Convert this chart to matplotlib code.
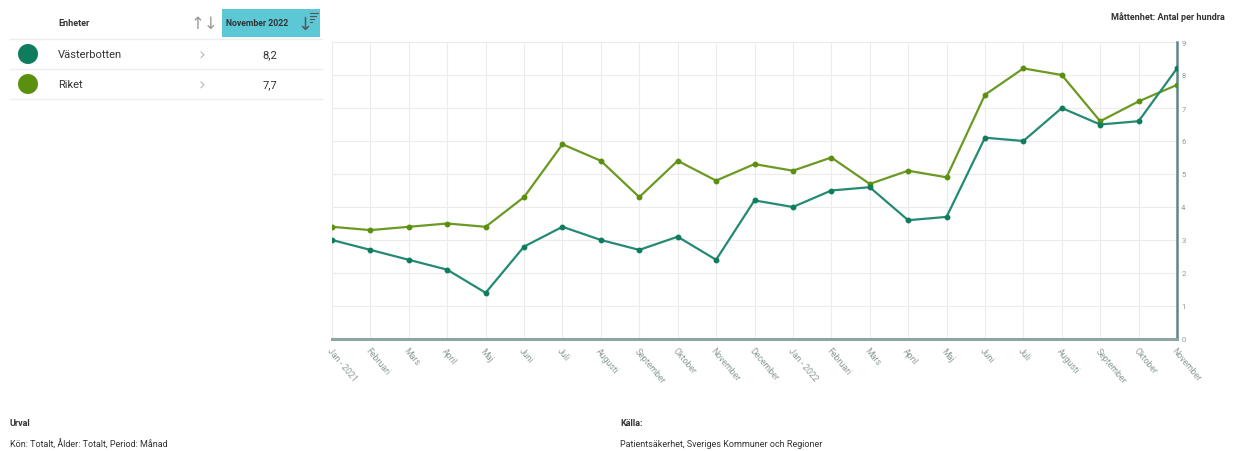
import matplotlib.pyplot as plt
from matplotlib.patches import Rectangle, Ellipse

months = ["Jan - 2021", "Februari", "Mars", "April", "Maj", "Juni", "Juli", "Augusti",
          "September", "Oktober", "November", "December", "Jan - 2022", "Februari",
          "Mars", "April", "Maj", "Juni", "Juli", "Augusti", "September", "Oktober",
          "November"]
vasterbotten = [3.0, 2.7, 2.4, 2.1, 1.4, 2.8, 3.4, 3.0, 2.7, 3.1, 2.4, 4.2,
                4.0, 4.5, 4.6, 3.6, 3.7, 6.1, 6.0, 7.0, 6.5, 6.6, 8.2]
riket = [3.4, 3.3, 3.4, 3.5, 3.4, 4.3, 5.9, 5.4, 4.3, 5.4, 4.8, 5.3,
         5.1, 5.5, 4.7, 5.1, 4.9, 7.4, 8.2, 8.0, 6.6, 7.2, 7.7]
units = ["Västerbotten", "Riket"]
latest = ["8,2", "7,7"]

plt.rcParams["font.family"] = ["Roboto", "DejaVu Sans"]

c_vb = "#258a74"
c_ri = "#6b9a22"
dot_vb = "#0e7c5d"
dot_ri = "#5a8f0f"
axis_col = "#5f8788"
txt = "#333333"
light = "#8c9a9a"

W, H = 1234, 452
fig = plt.figure(figsize=(W / 100, H / 100), dpi=100)
fig.patch.set_facecolor("white")

ax = fig.add_axes([332 / W, 1 - 340 / H, (1177 - 332) / W, (340 - 43) / H])
x = list(range(len(months)))
ax.plot(x, riket, color=c_ri, lw=1.6, marker="o", ms=3.2, mfc=dot_ri, mec=dot_ri, zorder=3)
ax.plot(x, vasterbotten, color=c_vb, lw=1.6, marker="o", ms=3.2, mfc=dot_vb, mec=dot_vb, zorder=4)
ax.set_xlim(0, len(months) - 1)
ax.set_ylim(0, 9)
ax.set_yticks(range(10))
ax.yaxis.tick_right()
ax.tick_params(axis="y", length=0, labelsize=5.5, labelcolor=light, pad=3)
ax.set_xticks(x)
ax.set_xticklabels(months, rotation=-50, ha="left", va="top", rotation_mode="anchor",
                   fontsize=6.3, color=light)
ax.tick_params(axis="x", length=0, pad=5)
ax.grid(True, color="#ececec", lw=0.8)
for s in ["top", "left"]:
    ax.spines[s].set_visible(False)
ax.spines["right"].set_color(axis_col)
ax.spines["right"].set_linewidth(1.8)
ax.spines["bottom"].set_color("#8fa3a3")
ax.spines["bottom"].set_linewidth(2.2)


def px(xp, yp):
    return xp / W, 1 - yp / H


def hline(x0, x1, yp, col, lw):
    fig.add_artist(plt.Line2D([x0 / W, x1 / W], [1 - yp / H] * 2, transform=fig.transFigure,
                              color=col, lw=lw))


# table / legend at the top left
fig.text(*px(58, 24), "Enheter", fontsize=6.5, fontweight="bold", color=txt, va="center")
fig.text(*px(205, 24), "↑↓", fontsize=12, color="#9a9a9a", va="center", ha="center",
         family="DejaVu Sans")
fig.patches.append(Rectangle(px(222, 38), 98 / W, 28 / H, transform=fig.transFigure,
                             facecolor="#5cc8d6", edgecolor="none"))
fig.text(*px(226, 24), "November 2022", fontsize=6.3, fontweight="bold", color=txt, va="center")
fig.text(*px(305, 25), "↓", fontsize=13, color="#555555", va="center", ha="center",
         family="DejaVu Sans")
for k, ln in enumerate([8, 6, 4, 2]):
    hline(310, 310 + ln, 14 + 3 * k, "#555555", 0.8)
for yl in [40, 70, 100]:
    hline(10, 322, yl, "#eeeeee", 1)
for i, (name, val, col) in enumerate(zip(units, latest, [dot_vb, dot_ri])):
    yc = 55 + 30 * i
    fig.patches.append(Ellipse(px(28, yc), 20 / W, 20 / H, transform=fig.transFigure,
                               facecolor=col, edgecolor="none"))
    fig.text(*px(58, yc), name, fontsize=8, color=txt, va="center")
    fig.text(*px(202, yc), "›", fontsize=12, color="#bbbbbb", va="center", ha="center",
             family="DejaVu Sans")
    fig.text(*px(270, yc), val, fontsize=8, color=txt, va="center", ha="center")

fig.text(*px(1225, 17), "Måttenhet: Antal per hundra", fontsize=6.5, fontweight="bold",
         color=txt, va="center", ha="right")

fig.text(*px(10, 424), "Urval", fontsize=6.5, fontweight="bold", color=txt, va="center")
fig.text(*px(10, 445), "Kön: Totalt, Ålder: Totalt, Period: Månad", fontsize=6.5, color=txt, va="center")
fig.text(*px(620, 424), "Källa:", fontsize=6.5, fontweight="bold", color=txt, va="center")
fig.text(*px(620, 445), "Patientsäkerhet, Sveriges Kommuner och Regioner", fontsize=6.5,
         color=txt, va="center")

fig.savefig("out.png", dpi=100)
